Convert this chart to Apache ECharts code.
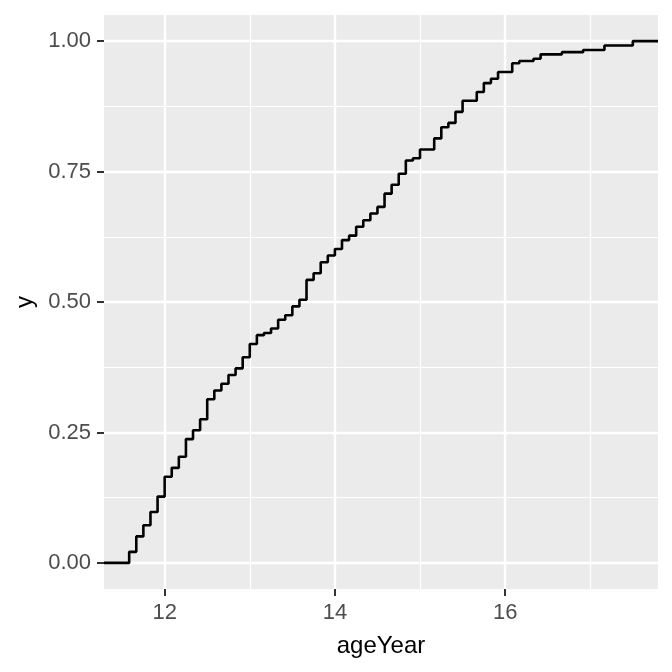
<!DOCTYPE html>
<html>
<head>
<meta charset="utf-8">
<script src="https://cdn.jsdelivr.net/npm/echarts@6/dist/echarts.min.js"></script>
<style>
  html, body { margin: 0; padding: 0; background: #ffffff; }
  #main { width: 672px; height: 672px; }
</style>
</head>
<body>
<div id="main"></div>
<script>
// age in months where the ECDF steps up, and the cumulative count at that age
var ageMonths = [139, 140, 141, 142, 143, 144, 145, 146, 147, 148, 149, 150, 151, 152, 153,
  154, 155, 156, 157, 158, 159, 160, 161, 162, 163, 164, 165, 166, 167, 168, 169, 170, 171,
  172, 173, 174, 175, 176, 177, 178, 179, 180, 182, 183, 184, 185, 186, 188, 189, 190, 191,
  193, 194, 196, 197, 200, 203, 206, 210];
var cumCount = [5, 12, 17, 23, 30, 39, 43, 48, 56, 60, 65, 74, 78, 81, 85, 88, 93, 99, 103,
  104, 106, 110, 112, 116, 119, 128, 131, 136, 139, 142, 146, 148, 152, 155, 158, 161, 167,
  171, 176, 182, 183, 187, 192, 197, 199, 204, 209, 213, 217, 219, 222, 226, 227, 228, 230,
  231, 232, 234, 236];
var total = 236;

var xMajor = [12, 14, 16];
var xMinor = [13, 15, 17];
var yMajor = [0, 0.25, 0.5, 0.75, 1];
var yMinor = [0.125, 0.375, 0.625, 0.875];

(function () {
  var myChart = echarts.init(document.getElementById('main'));

  // ggplot style 5% expansion of the x range
  var lo = ageMonths[0] / 12;
  var hi = ageMonths[ageMonths.length - 1] / 12;
  var pad = (hi - lo) * 0.05;
  var xMin = lo - pad;
  var xMax = hi + pad;

  // ecdf from -Inf to Inf
  var data = [[xMin, 0]];
  for (var i = 0; i < ageMonths.length; i++) {
    data.push([ageMonths[i] / 12, cumCount[i] / total]);
  }
  data.push([xMax, 1]);

  var labelFont = { fontFamily: 'Liberation Sans', fontSize: 22, color: '#4D4D4D' };
  var titleFont = { fontFamily: 'Liberation Sans', fontSize: 24, color: '#000000' };

  var option = {
    animation: false,
    grid: {
      left: 104, right: 14, top: 15, bottom: 83,
      show: true,
      backgroundColor: '#EBEBEB',
      borderWidth: 0
    },
    xAxis: [
      {
        type: 'value',
        min: xMin,
        max: xMax,
        name: 'ageYear',
        nameLocation: 'middle',
        nameGap: 45,
        nameTextStyle: titleFont,
        axisLine: { show: false, onZero: false },
        axisTick: { show: true, length: 7, customValues: xMajor, lineStyle: { color: '#333333', width: 2 } },
        axisLabel: Object.assign({ customValues: xMajor, margin: 13 }, labelFont),
        splitLine: { show: true, lineStyle: { color: '#ffffff', width: 2.4 } }
      },
      {
        type: 'value',
        min: xMin,
        max: xMax,
        position: 'top',
        axisLine: { show: false, onZero: false },
        axisTick: { show: false, customValues: xMinor },
        axisLabel: { show: false },
        splitLine: { show: true, lineStyle: { color: '#ffffff', width: 1.2 } }
      }
    ],
    yAxis: [
      {
        type: 'value',
        min: -0.05,
        max: 1.05,
        name: 'y',
        nameLocation: 'middle',
        nameGap: 66,
        nameRotate: 90,
        nameTextStyle: titleFont,
        axisLine: { show: false, onZero: false },
        axisTick: { show: true, length: 7, customValues: yMajor, lineStyle: { color: '#333333', width: 2 } },
        axisLabel: Object.assign({
          customValues: yMajor,
          margin: 13,
          formatter: function (v) { return v.toFixed(2); }
        }, labelFont),
        splitLine: { show: true, lineStyle: { color: '#ffffff', width: 2.4 } }
      },
      {
        type: 'value',
        min: -0.05,
        max: 1.05,
        position: 'right',
        axisLine: { show: false, onZero: false },
        axisTick: { show: false, customValues: yMinor },
        axisLabel: { show: false },
        splitLine: { show: true, lineStyle: { color: '#ffffff', width: 1.2 } }
      }
    ],
    series: [
      {
        type: 'line',
        step: 'end',
        showSymbol: false,
        symbol: 'none',
        xAxisIndex: 0,
        yAxisIndex: 0,
        lineStyle: { color: '#000000', width: 2.6 },
        data: data
      }
    ]
  };
  myChart.setOption(option);
})();
</script>
</body>
</html>
